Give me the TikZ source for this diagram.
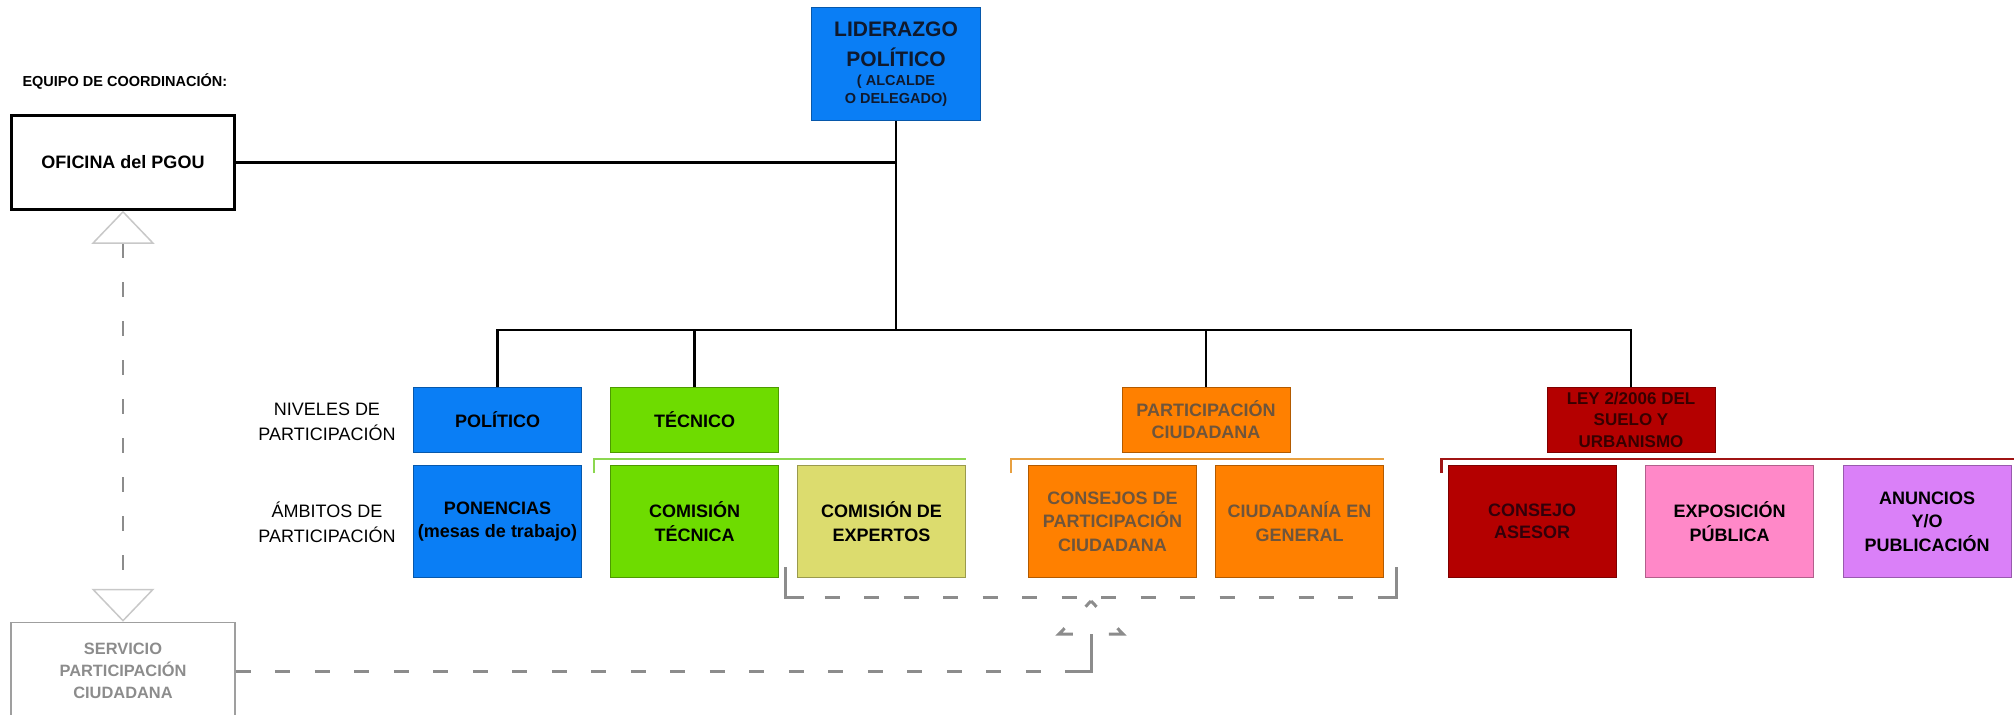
\documentclass[tikz,border=0pt]{standalone}
\usepackage{fontspec}
\setmainfont{Liberation Sans}
\usetikzlibrary{arrows.meta}
\definecolor{azul}{RGB}{10,126,245}
\definecolor{verde}{RGB}{110,220,0}
\definecolor{oliva}{RGB}{220,220,110}
\definecolor{naranja}{RGB}{255,128,0}
\definecolor{granate}{RGB}{180,0,0}
\definecolor{rosa}{RGB}{255,136,200}
\definecolor{lila}{RGB}{218,128,248}
\definecolor{llaveverde}{RGB}{140,215,80}
\definecolor{llavenaranja}{RGB}{232,160,64}
\definecolor{llavegranate}{RGB}{160,20,20}
\definecolor{gristrazo}{RGB}{140,140,140}
\definecolor{grisclaro}{RGB}{200,200,200}
\definecolor{textolider}{RGB}{15,25,45}
\definecolor{textopc}{RGB}{110,85,60}
\definecolor{textoley}{RGB}{55,0,0}
\definecolor{textoasesor}{RGB}{50,0,10}

\begin{document}
\begin{tikzpicture}[x=1pt,y=-1pt,
  caja/.style={draw=#1!70!black,fill=#1,line width=1pt,minimum width=168,align=center,inner sep=2pt,
    font=\bfseries\fontsize{18}{23.5}\selectfont},
  nivel/.style={caja=#1,minimum height=65},
  ambito/.style={caja=#1,minimum height=112},
  rama/.style={line width=2.5pt},
  llave/.style={draw=#1,line width=2.5pt},
  trazos/.style={draw=gristrazo,line width=3pt,dash pattern=on 15pt off 24.5pt},
  solido/.style={draw=gristrazo,line width=3pt},
  etiqueta/.style={align=center,font=\fontsize{18}{25}\selectfont},
  punta/.tip={Triangle[open,length=33pt,width=63pt,color=grisclaro,line width=1.5pt]}]
\useasboundingbox (0,0) rectangle (2014,715);

\node[anchor=west,font=\bfseries\fontsize{14.5}{17}\selectfont] (equipo) at (19,81) {EQUIPO DE COORDINACIÓN:};
\node[draw,line width=2.5pt,minimum width=223,minimum height=94,font=\bfseries\fontsize{18}{22}\selectfont] (oficina) at (123,162.5) {OFICINA del PGOU};
\node[caja=azul,minimum width=169,minimum height=113,text=textolider,font=\bfseries\fontsize{14.5}{18}\selectfont] (lider) at (896,64)
  {\fontsize{21}{27}\selectfont LIDERAZGO\\[10pt]\fontsize{21}{27}\selectfont POLÍTICO\\[0.7pt]( ALCALDE\\O DELEGADO)};
\node[draw=gray!75,line width=1.5pt,minimum width=224,minimum height=97,align=center,text=gray!90,
  font=\bfseries\fontsize{16.4}{22}\selectfont] (servicio) at (123,671) {SERVICIO\\PARTICIPACIÓN\\CIUDADANA};

\node[etiqueta] (niveles) at (327,421.5) {NIVELES DE\\PARTICIPACIÓN};
\node[etiqueta] (ambitos) at (327,522.5) {ÁMBITOS DE\\PARTICIPACIÓN};

\node[nivel=azul] (politico) at (497.5,419.5) {POLÍTICO};
\node[nivel=verde] (tecnico) at (694.5,419.5) {TÉCNICO};
\node[nivel=naranja,text=textopc,font=\bfseries\fontsize{18}{22}\selectfont] (ciudadana) at (1206,419.5) {PARTICIPACIÓN\\CIUDADANA};
\node[nivel=granate,text=textoley,font=\bfseries\fontsize{17}{21.5}\selectfont] (ley) at (1631,419.5) {LEY 2/2006 DEL\\SUELO Y\\URBANISMO};

\node[ambito=azul] (ponencias) at (497.5,521.5) {PONENCIAS\\(mesas de trabajo)};
\node[ambito=verde] (comtecnica) at (694.5,521.5) {COMISIÓN\\TÉCNICA};
\node[ambito=oliva] (expertos) at (881.5,521.5) {COMISIÓN DE\\EXPERTOS};
\node[ambito=naranja,text=textopc] (consejos) at (1112.5,521.5) {CONSEJOS DE\\PARTICIPACIÓN\\CIUDADANA};
\node[ambito=naranja,text=textopc] (ciudadania) at (1299.5,521.5) {CIUDADANÍA EN\\GENERAL};
\node[ambito=granate,text=textoasesor,font=\bfseries\fontsize{18}{22}\selectfont] (asesor) at (1532,521.5) {CONSEJO\\ASESOR};
\node[ambito=rosa] (exposicion) at (1729.5,521.5) {EXPOSICIÓN\\PÚBLICA};
\node[ambito=lila] (anuncios) at (1927,521.5) {ANUNCIOS\\Y/O\\PUBLICACIÓN};

\coordinate (bus) at (896,330);
\coordinate (vertice) at (1091,601);
\coordinate (esqizq) at ([xshift=6pt,yshift=-19pt]comtecnica.south east);
\coordinate (esqder) at ([xshift=12pt,yshift=-19pt]ciudadania.south east);
\coordinate (codo) at (vertice |- servicio.east);
\draw[rama] (oficina.east) -- (oficina.east -| lider.south);
\draw[rama] (lider.south) -- (bus);
\draw[rama] (politico.north) |- (bus) -| (ley.north);
\draw[rama] (tecnico.north) -- (tecnico.north |- bus);
\draw[rama] (ciudadana.north) -- (ciudadana.north |- bus);

\draw[llave=llaveverde] ([xshift=-16pt,yshift=-8pt]comtecnica.north west) |- ([yshift=6pt]expertos.north east);
\draw[llave=llavenaranja] ([xshift=-17pt,yshift=-8pt]consejos.north west) |- ([yshift=6pt]ciudadania.north east);
\draw[llave=llavegranate] ([xshift=-6pt,yshift=-8pt]asesor.north west) |- ([xshift=4pt,yshift=6pt]anuncios.north east);

\draw[draw=gristrazo,line width=2.5pt,dash pattern=on 15pt off 24pt,punta-punta] (oficina.south) -- (servicio.north);
\draw[trazos] (esqizq) -- (esqder);
\draw[solido] ([yshift=30pt]esqizq) -- (esqizq) -- ([xshift=19pt]esqizq);
\draw[solido] ([xshift=-16pt]esqder) -- (esqder) -- ([yshift=30pt]esqder);
\draw[trazos] (servicio.east) -- ([xshift=-12pt]codo);
\draw[solido] ([xshift=-12pt]codo) -- (codo) -- ([yshift=-33pt]vertice);
\draw[draw=gristrazo,line width=3pt,line join=miter,dash pattern=on 8pt off 30pt on 22pt off 36pt on 22pt off 30pt on 8pt off 0pt] (vertice) -- ++(32,33) -- ++(-64,0) -- cycle;
\end{tikzpicture}
\end{document}
